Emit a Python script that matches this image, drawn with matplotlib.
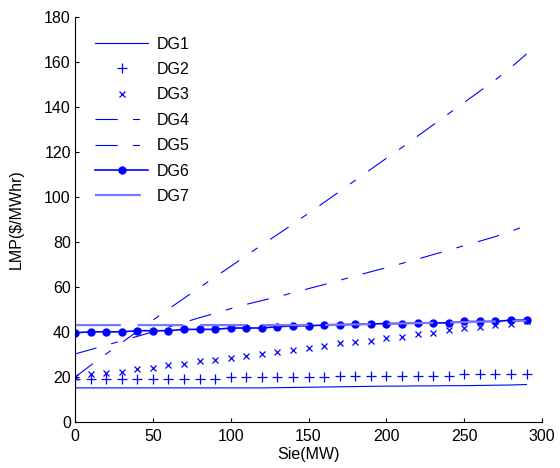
import numpy as np
import matplotlib
matplotlib.use('Agg')
import matplotlib.pyplot as plt

plt.rcParams['font.family'] = ['Liberation Sans', 'DejaVu Sans']
plt.rcParams['lines.scale_dashes'] = False

# Sie (MW) sample points
sie = list(range(0, 300, 10))

# LMP values ($/MWhr)
dg1 = [15.2, 15.2, 15.2, 15.2, 15.2, 15.2, 15.2, 15.2, 15.2, 15.2,
       15.2, 15.2, 15.2, 15.3, 15.4, 15.5, 15.6, 15.7, 15.8, 15.9,
       16.0, 16.0, 16.1, 16.1, 16.2, 16.2, 16.3, 16.4, 16.5, 16.7]
dg2 = [19.1, 19.1, 19.1, 19.1, 19.1, 19.1, 19.1, 19.1, 19.1, 19.1,
       19.9, 19.9, 19.9, 19.9, 19.9, 19.9, 19.9, 20.4, 20.4, 20.4,
       20.4, 20.4, 20.4, 20.4, 20.4, 21.2, 21.2, 21.2, 21.2, 21.2]
dg3 = [20.1, 21.6, 22.0, 22.3, 23.5, 24.1, 25.3, 26.0, 27.3, 27.6,
       28.3, 29.5, 30.2, 31.3, 32.0, 33.0, 33.8, 35.0, 35.7, 36.2,
       37.5, 38.0, 39.1, 39.7, 40.9, 41.6, 42.1, 43.0, 43.6, 44.8]
dg4 = [20.0, 25.2, 30.3, 35.3, 40.3, 45.3, 50.2, 55.0, 59.8, 64.5,
       69.2, 74.0, 78.7, 83.3, 88.0, 92.8, 97.6, 102.5, 107.4, 112.3,
       117.2, 122.0, 127.0, 132.0, 137.0, 142.0, 147.0, 152.0, 157.5, 163.5]
dg5 = [30.3, 32.2, 34.2, 36.1, 38.1, 40.1, 42.2, 44.3, 46.4, 48.3,
       50.4, 52.3, 54.0, 55.6, 57.5, 59.3, 61.1, 63.0, 64.9, 66.8,
       68.6, 70.5, 72.4, 74.4, 76.4, 78.4, 80.4, 82.4, 84.8, 87.3]
dg6 = [39.7, 40.1, 40.1, 40.1, 40.6, 40.6, 40.6, 41.2, 41.2, 41.2,
       41.8, 41.8, 41.8, 42.4, 42.7, 42.8, 43.1, 43.3, 43.4, 43.6,
       43.8, 43.8, 44.1, 44.1, 44.1, 44.7, 44.7, 44.7, 45.3, 45.3]
dg7 = [43.1, 43.1, 43.1, 43.1, 43.1, 43.1, 43.1, 43.1, 43.1, 43.1,
       43.1, 43.1, 43.1, 43.1, 43.1, 43.1, 43.2, 43.3, 43.4, 43.5,
       43.7, 43.8, 44.0, 44.1, 44.3, 44.4, 44.6, 44.7, 44.9, 45.0]

blue = (0, 0, 1)
dashdot = (0, (16, 11, 5, 11))
fs = 11.5

fig = plt.figure(figsize=(5.6, 4.68), dpi=100)
ax = fig.add_axes([0.134, 0.098, 0.834, 0.866])

ax.plot(sie, dg1, color=blue, lw=0.8, label='DG1')
ax.plot(sie, dg2, color=blue, lw=0, marker='+', ms=7.5, mew=0.9, label='DG2')
ax.plot(sie, dg3, color=blue, lw=0, marker='x', ms=4.5, mew=0.9, label='DG3')
ax.plot(sie, dg4, color=blue, lw=0.8, ls=dashdot, label='DG4')
ax.plot(sie, dg5, color=blue, lw=0.8, ls=dashdot, label='DG5')
ax.plot(sie, dg6, color=blue, lw=1.2, marker='o', ms=5, label='DG6')
ax.plot(sie, dg7, color='#7878ff', lw=1.6, ls=(0, (33, 12)), label='DG7')

ax.set_xlim(0, 300)
ax.set_ylim(0, 180)
ax.set_xticks(range(0, 301, 50))
ax.set_yticks(range(0, 181, 20))
ax.spines['top'].set_visible(False)
ax.spines['right'].set_visible(False)
ax.tick_params(direction='in', length=3, labelsize=fs, pad=3)
ax.tick_params(axis='x', pad=5)
ax.set_xlabel('Sie(MW)', fontsize=fs, labelpad=2)
ax.set_ylabel('LMP($/MWhr)', fontsize=fs, labelpad=15)

ax.legend(loc='upper left', bbox_to_anchor=(0.03, 0.967), borderaxespad=0,
          frameon=False, fontsize=fs, handlelength=3.3, handletextpad=0.55,
          labelspacing=0.65)

fig.savefig('out.png', dpi=100)
